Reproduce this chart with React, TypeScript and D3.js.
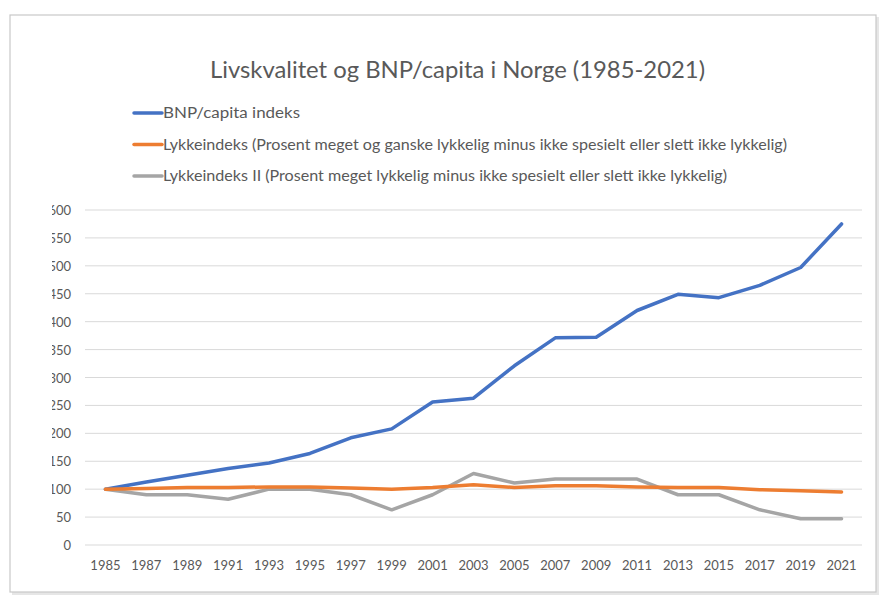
import React, { useEffect, useRef } from "react";
import * as d3 from "d3";

const years = ["1985", "1987", "1989", "1991", "1993", "1995", "1997", "1999", "2001", "2003", "2005", "2007", "2009", "2011", "2013", "2015", "2017", "2019", "2021"];
const bnp = [100, 113, 125, 137, 147, 164, 192, 208, 256, 263, 321, 371, 372, 420, 449, 443, 465, 497, 575];
const lykke = [100, 101, 103, 103, 104, 104, 102, 100, 103, 108, 103, 106, 106, 104, 103, 103, 99, 97, 95];
const lykke2 = [100, 90, 90, 82, 100, 100, 90, 63, 90, 128, 111, 118, 118, 118, 90, 90, 63, 47, 47];
const yTicks = [0, 50, 100, 150, 200, 250, 300, 350, 400, 450, 500, 550, 600];

const seriesNames = [
  "BNP/capita indeks",
  "Lykkeindeks (Prosent meget og ganske lykkelig minus ikke spesielt eller slett ikke lykkelig)",
  "Lykkeindeks II (Prosent meget lykkelig minus ikke spesielt eller slett ikke lykkelig)",
];
const colors = ["#4472C4", "#ED7D31", "#A5A5A5"];
const title = "Livskvalitet og BNP/capita i Norge (1985-2021)";

const App = () => {
  const ref = useRef<SVGSVGElement>(null);

  useEffect(() => {
    const width = 890;
    const height = 603;
    const font = "Lato, 'Open Sans', sans-serif";
    const txt = "#595959";

    const svg = d3.select(ref.current);
    svg.selectAll("*").remove();
    svg.attr("width", width).attr("height", height);

    // chart frame
    svg.append("rect")
      .attr("x", 12).attr("y", 17).attr("width", 867).attr("height", 578)
      .attr("fill", "#e6e6e6");
    svg.append("rect")
      .attr("x", 10).attr("y", 15).attr("width", 866).attr("height", 577)
      .attr("fill", "#fff").attr("stroke", "#c8c8c8").attr("stroke-width", 1.2);

    const x = d3.scalePoint().domain(years).range([85, 862]).padding(0.5);
    const y = d3.scaleLinear().domain([0, 600]).range([545, 210]);

    // gridlines
    svg.append("g")
      .selectAll("line")
      .data(yTicks)
      .join("line")
      .attr("x1", 85).attr("x2", 862)
      .attr("y1", d => y(d)).attr("y2", d => y(d))
      .attr("stroke", "#d9d9d9").attr("stroke-width", 1);

    // y labels (cut at the left like the screenshot)
    svg.append("clipPath").attr("id", "ycut")
      .append("rect").attr("x", 52).attr("y", 190).attr("width", 40).attr("height", 380);
    svg.append("g")
      .attr("clip-path", "url(#ycut)")
      .selectAll("text")
      .data(yTicks)
      .join("text")
      .attr("x", 71).attr("y", d => y(d) + 5)
      .attr("text-anchor", "end")
      .attr("font-family", font).attr("font-size", 13).attr("fill", txt)
      .text(d => d);

    // x labels
    svg.append("g")
      .selectAll("text")
      .data(years)
      .join("text")
      .attr("x", d => x(d)!).attr("y", 570)
      .attr("text-anchor", "middle")
      .attr("font-family", font).attr("font-size", 13).attr("fill", txt)
      .text(d => d);

    // lines
    const all = [bnp, lykke2, lykke];
    const allColors = [colors[0], colors[2], colors[1]];
    const line = d3.line<number>()
      .x((_, i) => x(years[i])!)
      .y(d => y(d));
    all.forEach((s, k) => {
      svg.append("path")
        .datum(s)
        .attr("fill", "none")
        .attr("stroke", allColors[k])
        .attr("stroke-width", 3.5)
        .attr("stroke-linejoin", "round")
        .attr("stroke-linecap", "round")
        .attr("d", line);
    });

    // title
    svg.append("text")
      .attr("x", 210).attr("y", 78)
      .attr("textLength", 495).attr("lengthAdjust", "spacingAndGlyphs")
      .attr("font-family", font).attr("font-size", 23).attr("fill", txt)
      .text(title);

    // legend
    const legY = [113, 144.5, 176];
    const legW = [137, 624, 564];
    seriesNames.forEach((name, i) => {
      svg.append("line")
        .attr("x1", 134).attr("x2", 162)
        .attr("y1", legY[i]).attr("y2", legY[i])
        .attr("stroke", colors[i]).attr("stroke-width", 3.5)
        .attr("stroke-linecap", "round");
      svg.append("text")
        .attr("x", 163).attr("y", legY[i] + 5)
        .attr("textLength", legW[i]).attr("lengthAdjust", "spacingAndGlyphs")
        .attr("font-family", font).attr("font-size", 15.5).attr("fill", txt)
        .text(name);
    });
  }, []);

  return (
    <svg ref={ref} style={{ position: "absolute", left: 0, top: 0, background: "#fff" }} />
  );
};

export default App;
